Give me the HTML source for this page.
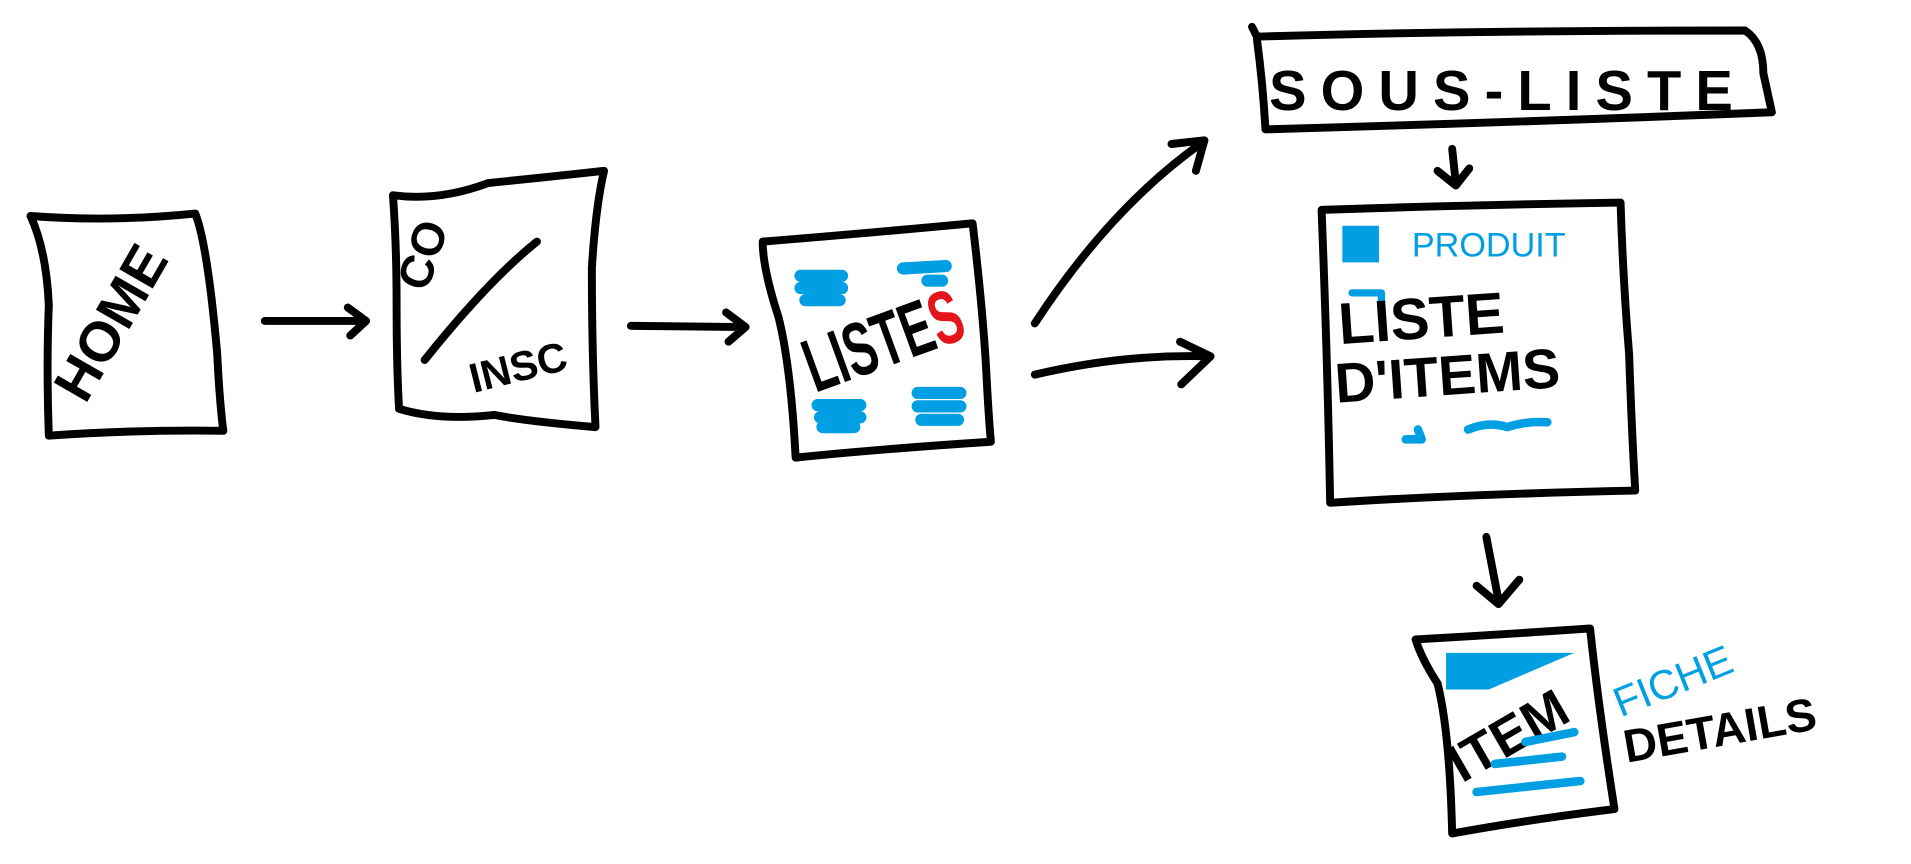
<!DOCTYPE html>
<html><head><meta charset="utf-8"><style>
html,body{margin:0;padding:0;background:#fff;width:1911px;height:864px;overflow:hidden}
svg{display:block}
.k{fill:none;stroke:#000;stroke-width:6.5;stroke-linecap:round;stroke-linejoin:round}
.b{fill:none;stroke:#009fe3;stroke-width:10;stroke-linecap:round;stroke-linejoin:round}
.t{font-family:"Liberation Sans",sans-serif;font-weight:bold;fill:#000}
.tb{font-family:"Liberation Sans",sans-serif;fill:#009fe3}
</style></head><body>
<svg width="1911" height="864" viewBox="0 0 1566 708" preserveAspectRatio="none">
<!-- HOME -->
<path class="k" d="M25,177 Q90,182 160,175 Q170,200 178,290 Q180,330 183,353 Q110,352 40,357 Q38,300 40,250 Q38,205 25,177Z"/>
<text class="t" x="0" y="0" font-size="46" transform="translate(70,332) rotate(-60)">HOME</text>
<path class="k" d="M217,263 L298,263 M285,252 L300,263 L287,275"/>
<!-- CO / INSC -->
<path class="k" d="M322,160 Q360,165 400,150 Q450,145 495,140 Q488,170 485,220 Q485,290 488,350 Q430,345 405,340 Q360,345 327,335 Q325,300 325,250 Q325,200 322,160Z"/>
<text class="t" x="0" y="0" font-size="38" transform="translate(350,240) rotate(-72)">CO</text>
<path class="k" d="M348,295 Q400,230 440,198"/>
<text class="t" x="0" y="0" font-size="34" transform="translate(388,322) rotate(-14)">INSC</text>
<path class="k" d="M517,267 L610,268 M595,256 L611,268 L597,280"/>
<!-- LISTES -->
<path class="k" d="M625,198 Q700,192 797,183 Q805,250 808,300 Q810,340 812,362 Q720,368 652,375 Q648,300 638,260 Q625,220 625,198Z"/>
<path class="b" d="M656,226 L690,226 M656,236 L690,236 M660,246 L688,246"/>
<path class="b" d="M740,220 L775,218 M760,230 L772,230"/>
<path class="b" d="M670,332 L705,332 M672,342 L705,342 M674,350 L700,350"/>
<path class="b" d="M752,322 L787,322 M752,333 L787,333 M755,344 L785,344"/>
<text class="t" x="0" y="0" font-size="48" transform="translate(668,322) rotate(-20) scale(0.8,1.3)">LISTE<tspan fill="#e3151a">S</tspan></text>
<!-- arrows -->
<path class="k" d="M848,265 Q910,170 985,117 M960,118 L987,115 L980,140"/>
<path class="k" d="M848,307 Q920,290 990,292 M967,280 L992,292 L968,315"/>
<!-- SOUS-LISTE -->
<path class="k" d="M1026,22 L1030,30 Q1200,25 1430,25 Q1445,35 1445,60 L1452,92 Q1250,100 1037,106 Q1035,70 1030,32"/>
<text class="t" x="1040" y="90" font-size="46" textLength="380" lengthAdjust="spacing">SOUS-LISTE</text>
<path class="k" d="M1190,122 L1193,150 M1178,140 L1193,152 L1204,138"/>
<!-- LISTE D'ITEMS -->
<path class="k" d="M1083,172 Q1200,168 1328,166 Q1330,230 1335,290 Q1337,350 1340,402 Q1200,405 1090,412 Q1088,300 1083,172Z"/>
<rect x="1100" y="185" width="30" height="30" fill="#009fe3"/>
<text class="tb" x="1157" y="210" font-size="28">PRODUIT</text>
<path class="b" d="M1108,240 L1132,240 L1132,250" style="stroke-width:6"/>
<text class="t" x="1098" y="282" font-size="48" transform="rotate(-4 1098 282)">LISTE</text>
<text class="t" x="1095" y="330" font-size="46" transform="rotate(-4 1095 330)">D'ITEMS</text>
<path class="b" d="M1203,352 Q1220,345 1235,350 Q1250,345 1268,346" style="stroke-width:7"/>
<path class="b" d="M1152,360 L1165,360 L1162,352" style="stroke-width:7"/>
<path class="k" d="M1218,440 L1228,492 M1210,480 L1228,495 L1245,475"/>
<!-- ITEM -->
<path class="k" d="M1160,524 Q1230,520 1303,515 Q1310,580 1323,663 Q1250,672 1190,683 Q1188,600 1178,560 Q1165,540 1160,524Z"/>
<path d="M1185,535 L1290,535 L1220,565 L1185,565Z" fill="#009fe3"/>
<text class="t" x="0" y="0" font-size="44" transform="translate(1198,642) rotate(-30)">ITEM</text>
<path class="b" d="M1250,608 L1290,600" style="stroke-width:7"/>
<path class="b" d="M1225,626 L1280,620" style="stroke-width:7"/>
<path class="b" d="M1210,649 L1295,640" style="stroke-width:7"/>
<text class="tb" x="0" y="0" font-size="34" transform="translate(1328,588) rotate(-22)">FICHE</text>
<text class="t" x="0" y="0" font-size="38" transform="translate(1333,625) rotate(-10)">DETAILS</text>
</svg>
</body></html>
